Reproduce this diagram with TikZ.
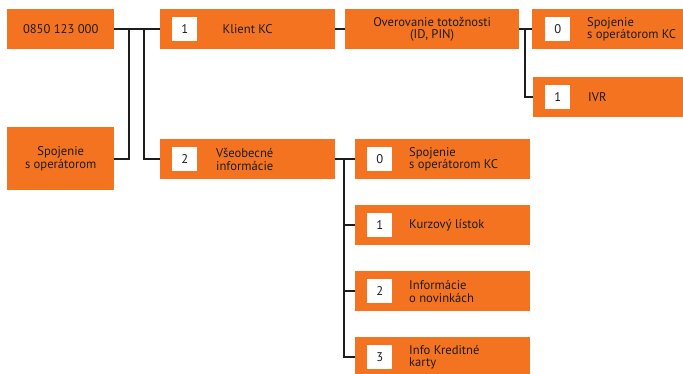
\documentclass[tikz,border=0pt]{standalone}
\usepackage{fontspec}
\setmainfont{PT Sans}
\usetikzlibrary{positioning,backgrounds}
\definecolor{kcorange}{RGB}{243,115,33}
\definecolor{kcblack}{RGB}{30,28,28}

\tikzset{
  menubox/.style={fill=kcorange, anchor=north west, minimum height=40pt, inner sep=0pt},
  numbox/.style={fill=white, minimum width=25pt, minimum height=24pt, inner sep=0pt,
    text=kcblack, font=\fontsize{12.6}{12.8}\selectfont},
  menutext/.style={anchor=west, align=left, inner sep=0pt, text=kcblack,
    font=\fontsize{12.6}{12.8}\selectfont},
  link/.style={line width=1.6pt, kcblack, line cap=rect}
}

\begin{document}
\begin{tikzpicture}[x=1pt,y=-1pt]
  \useasboundingbox (0,0) rectangle (683,373);
  % Entry points
  \node[menubox, minimum width=107pt] (dial) at (7,9) {};
  \node[menutext, anchor=center] (dialtxt) at (dial.center) {0850 123 000};
  \node[menubox, minimum width=107pt, minimum height=63pt] (oper) at (7,127) {};
  \node[menutext, anchor=center, align=center] (opertxt) at (oper.center) {Spojenie\\s operátorom};
  % First level
  \node[menubox, minimum width=175pt] (klient) at (160,9) {};
  \node[numbox, right=12pt of klient.west] (klientnum) {1};
  \node[menutext, anchor=center] (klienttxt) at (klient.center) {Klient KC};
  \node[menubox, minimum width=175pt] (vseob) at (160,139) {};
  \node[numbox, right=12pt of vseob.west] (vseobnum) {2};
  \node[menutext, right=56pt of vseob.west] (vseobtxt) {Všeobecné\\informácie};
  % Client branch
  \node[menubox, minimum width=174pt] (overov) at (345,9) {};
  \node[menutext, anchor=center, align=center] (overovtxt) at (overov.center) {Overovanie totožnosti\\(ID, PIN)};
  \node[menubox, minimum width=160pt] (kc0) at (532,9) {};
  \node[numbox, right=13pt of kc0.west] (kc0num) {0};
  \node[menutext, right=55pt of kc0.west] (kc0txt) {Spojenie\\s operátorom KC};
  \node[menubox, minimum width=160pt] (kc1) at (533,77) {};
  \node[numbox, right=12pt of kc1.west] (kc1num) {1};
  \node[menutext, right=55pt of kc1.west] (kc1txt) {IVR};
  % General branch
  \node[menubox, minimum width=175pt] (info0) at (355,139) {};
  \node[menubox, minimum width=175pt] (info1) at (355,205) {};
  \node[menubox, minimum width=175pt] (info2) at (355,271) {};
  \node[menubox, minimum width=175pt] (info3) at (355,337) {};
  \foreach \n/\txt in {0/{Spojenie\\s operátorom KC}, 1/{Kurzový lístok},
                       2/{Informácie\\o novinkách}, 3/{Info Kreditné\\karty}}{
    \node[numbox, right=12pt of info\n.west] (info\n num) {\n};
    \node[menutext, right=54pt of info\n.west] (info\n txt) {\txt};
  }
  % Connectors
  \coordinate (fork1) at (129,29);
  \coordinate (fork2) at (144,29);
  \coordinate (fork3) at (525,29);
  \coordinate (fork4) at (344,159);
  \begin{scope}[on background layer]
    \draw[link] (dial.east) -- (klient.west);
    \draw[link] (oper.east) -| (fork1);
    \draw[link] (fork2) |- (vseob.west);
    \draw[link] (klient.east) -- (overov.west);
    \draw[link] (overov.east) -- (kc0.west);
    \draw[link] (fork3) |- (kc1.west);
    \draw[link] (vseob.east) -- (info0.west);
    \foreach \n in {1,2,3}
      \draw[link] (fork4) |- (info\n.west);
  \end{scope}
\end{tikzpicture}
\end{document}
